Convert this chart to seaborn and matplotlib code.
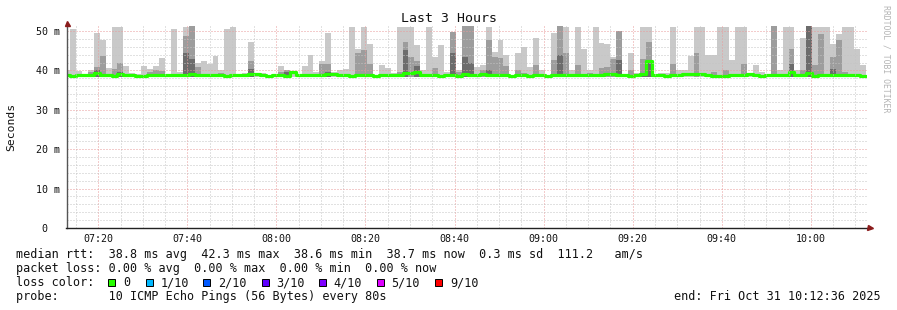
import numpy as np
import pandas as pd
import matplotlib
matplotlib.use("Agg")
import matplotlib.pyplot as plt
from matplotlib.patches import Rectangle
import seaborn as sns

# ---------------- data ----------------
title = "Last 3 Hours"
first_step = "07:12:19"          # start of first 80 s step
step_seconds = 80
window_start = "07:12:52"
window_end = "10:12:36"
smoke_floor = 38.3               # fastest ping (ms)

# top of outer smoke band (ms) per step
light_top = [
    40.0, 50.6, 39.8, 39.2, 40.0, 49.6, 47.7, 40.7, 50.9, 50.9,
    41.0, 39.4, 39.0, 41.0, 40.4, 41.0, 43.1, 39.0, 50.6, 39.6,
    50.9, 51.2, 41.9, 42.3, 41.7, 43.6, 40.0, 50.4, 50.9, 39.2,
    39.4, 47.1, 39.4, 39.4, 38.9, 38.9, 41.1, 40.2, 39.6, 38.9,
    41.1, 44.0, 39.6, 42.3, 49.6, 39.6, 40.2, 40.4, 50.9, 45.5,
    50.9, 46.8, 38.9, 41.3, 40.7, 39.4, 50.9, 50.9, 50.9, 46.5,
    40.0, 50.9, 43.4, 46.4, 39.5, 49.8, 40.0, 51.2, 51.2, 40.9,
    41.3, 50.9, 44.7, 47.7, 44.0, 38.9, 44.5, 46.0, 40.9, 48.1,
    40.0, 38.9, 49.4, 51.2, 50.9, 40.0, 50.9, 45.5, 40.0, 50.9,
    47.0, 46.8, 43.4, 50.0, 38.9, 44.3, 39.4, 50.9, 50.9, 38.9,
    39.4, 39.4, 50.9, 40.0, 40.2, 43.6, 50.9, 50.9, 44.0, 44.0,
    50.9, 50.9, 42.6, 50.9, 50.9, 38.9, 41.3, 39.6, 38.9, 51.2,
    40.0, 50.9, 50.9, 40.0, 48.1, 51.2, 50.9, 50.9, 50.9, 46.8,
    49.2, 50.9, 50.9, 45.4, 41.3,
]
# top of middle smoke band (ms)
mid_top = [
    39.2, 38.3, 38.3, 38.3, 39.5, 40.9, 43.6, 38.3, 40.3, 41.9,
    38.3, 38.3, 38.3, 38.3, 39.6, 40.2, 39.8, 38.3, 38.3, 38.3,
    48.7, 51.2, 40.9, 38.3, 38.3, 38.3, 39.4, 38.3, 38.3, 38.3,
    38.3, 42.3, 38.3, 38.3, 38.3, 38.3, 39.6, 40.0, 38.3, 38.3,
    38.3, 38.3, 38.3, 41.5, 41.5, 38.3, 38.3, 38.3, 38.3, 44.5,
    45.1, 41.7, 38.3, 38.3, 38.3, 38.3, 39.5, 47.1, 43.3, 42.5,
    38.3, 38.3, 40.5, 38.3, 38.3, 49.8, 39.5, 51.2, 51.2, 38.3,
    40.0, 47.7, 43.4, 43.2, 41.0, 38.3, 40.2, 39.4, 38.3, 41.3,
    38.3, 38.3, 42.6, 51.2, 44.3, 38.3, 41.3, 38.3, 39.4, 38.3,
    40.5, 40.9, 43.0, 50.0, 38.3, 40.0, 38.3, 43.0, 47.2, 38.3,
    38.3, 38.3, 41.5, 38.3, 38.3, 38.3, 44.3, 38.3, 38.3, 39.6,
    38.3, 40.0, 38.3, 38.3, 41.7, 38.3, 38.3, 38.3, 38.3, 51.2,
    38.3, 38.3, 45.4, 38.3, 40.2, 51.2, 41.3, 49.2, 38.3, 43.4,
    47.7, 39.6, 38.3, 38.3, 38.3,
]
# top of inner (dark) smoke band (ms)
dark_top = [
    38.3, 38.3, 38.3, 38.3, 39.0, 40.2, 38.3, 38.3, 38.3, 39.5,
    38.3, 38.3, 38.3, 38.3, 38.3, 38.3, 38.3, 38.3, 38.3, 38.3,
    44.5, 42.8, 38.3, 38.3, 38.3, 38.3, 38.3, 38.3, 38.3, 38.3,
    38.3, 40.4, 38.3, 38.3, 38.3, 38.3, 38.3, 39.6, 38.3, 38.3,
    38.3, 38.3, 38.3, 38.3, 39.6, 38.3, 38.3, 38.3, 38.3, 38.3,
    38.3, 38.3, 38.3, 38.3, 38.3, 38.3, 38.3, 45.1, 38.3, 41.0,
    38.3, 38.3, 38.3, 38.3, 38.3, 44.3, 38.3, 43.4, 41.9, 38.3,
    38.3, 40.0, 38.3, 38.3, 38.3, 38.3, 38.3, 38.3, 38.3, 38.3,
    38.3, 38.3, 38.3, 44.0, 38.3, 38.3, 38.3, 38.3, 38.3, 38.3,
    38.3, 38.3, 38.3, 42.6, 38.3, 38.3, 38.3, 39.4, 42.3, 38.3,
    38.3, 38.3, 38.3, 38.3, 38.3, 38.3, 38.3, 38.3, 38.3, 38.3,
    38.3, 38.3, 38.3, 38.3, 38.3, 38.3, 38.3, 38.3, 38.3, 38.3,
    38.3, 38.3, 41.5, 38.3, 38.3, 51.2, 38.3, 38.3, 38.3, 40.4,
    38.3, 38.3, 38.3, 38.3, 38.3,
]
# median rtt (ms)
median_rtt = [
    38.8, 38.6, 38.8, 38.8, 38.8, 39.3, 38.9, 38.8, 38.6, 39.0,
    38.8, 38.8, 38.6, 38.6, 38.8, 38.9, 38.9, 38.9, 38.9, 38.8,
    38.8, 39.1, 38.9, 38.8, 38.8, 38.8, 38.8, 38.5, 38.8, 38.8,
    38.8, 39.2, 39.2, 38.8, 38.5, 38.8, 38.8, 38.5, 39.5, 38.8,
    38.8, 38.8, 38.9, 38.8, 39.0, 39.1, 38.8, 38.8, 38.5, 38.8,
    38.8, 38.8, 38.5, 38.8, 38.8, 38.8, 38.8, 39.3, 39.3, 39.6,
    38.8, 38.8, 38.8, 38.5, 38.8, 38.8, 38.5, 39.0, 38.8, 38.8,
    39.1, 38.8, 38.8, 38.8, 38.8, 38.5, 38.8, 38.8, 38.6, 38.8,
    38.8, 38.5, 38.8, 38.8, 38.8, 38.8, 38.8, 38.8, 38.8, 38.8,
    38.8, 39.1, 39.1, 38.8, 38.8, 38.5, 38.8, 39.1, 42.3, 38.8,
    38.8, 38.6, 38.8, 38.8, 39.1, 39.1, 39.1, 39.1, 38.8, 38.6,
    38.6, 38.6, 38.8, 38.8, 38.8, 39.1, 38.8, 38.6, 38.8, 38.8,
    38.8, 38.8, 39.7, 38.8, 38.8, 39.4, 38.6, 38.8, 38.8, 38.8,
    38.8, 38.8, 38.8, 38.8, 38.7,
]

y_ticks = [0, 10, 20, 30, 40, 50]
y_tick_labels = ["0  ", "10 m", "20 m", "30 m", "40 m", "50 m"]
x_tick_labels = ["07:20", "07:40", "08:00", "08:20", "08:40", "09:00",
                 "09:20", "09:40", "10:00"]

legend_rtt = ("median rtt:  38.8 ms avg  42.3 ms max  38.6 ms min  "
              "38.7 ms now  0.3 ms sd  111.2   am/s")
legend_loss = "packet loss: 0.00 % avg  0.00 % max  0.00 % min  0.00 % now"
loss_labels = ["0", "1/10", "2/10", "3/10", "4/10", "5/10", "9/10"]
loss_colors = ["#26ff00", "#00b8ff", "#0059ff", "#5e00ff", "#7e00ff",
               "#dd00ff", "#ff0000"]
legend_probe = "probe:       10 ICMP Echo Pings (56 Bytes) every 80s"
legend_end = "end: Fri Oct 31 10:12:36 2025"
watermark = "RRDTOOL / TOBI OETIKER"


def to_min(s):
    h, m, sec = (int(v) for v in s.split(":"))
    return h * 60 + m + sec / 60.0


# ---------------- figure ----------------
sns.set_theme(style="white")
plt.rcParams['font.family'] = ['DejaVu Sans Mono', 'DejaVu Sans']

W, H = 897, 310
fig = plt.figure(figsize=(W / 100, H / 100), dpi=100)
fig.patch.set_facecolor("white")
ax_l, ax_r, ax_t, ax_b = 66.5, 867.0, 26.0, 228.0
ax = fig.add_axes([ax_l / W, 1 - ax_b / H, (ax_r - ax_l) / W, (ax_b - ax_t) / H])
ax.set_facecolor("white")

step_min = step_seconds / 60.0
t0 = to_min(first_step)
n = len(median_rtt)
times = np.array([t0 + i * step_min for i in range(n)])

L = np.array(light_top)
M = np.array(mid_top)
D = np.array(dark_top)

ax.bar(times, L - smoke_floor, bottom=smoke_floor, width=step_min, align="edge",
       color="#c9c9c9", linewidth=0, zorder=1)
ax.bar(times, M - smoke_floor, bottom=smoke_floor, width=step_min, align="edge",
       color="#9d9d9d", linewidth=0, zorder=1.1)
ax.bar(times, D - smoke_floor, bottom=smoke_floor, width=step_min, align="edge",
       color="#6c6c6c", linewidth=0, zorder=1.2)

df = pd.DataFrame({"t": list(times) + [times[-1] + step_min],
                   "median": median_rtt + [median_rtt[-1]]})
sns.lineplot(data=df, x="t", y="median", drawstyle="steps-post", color="#26ff00",
             linewidth=2.3, ax=ax, zorder=2, estimator=None)

xmin, xmax = to_min(window_start), to_min(window_end)
ymax = (ax_b - ax_t) / 3.94
ax.set_xlim(xmin, xmax)
ax.set_ylim(0, ymax)

# grid (drawn on top like rrdtool)
dot = (0, (1, 2))
for m5 in range(int(np.ceil(xmin / 5)) * 5, int(xmax) + 1, 5):
    major = (m5 % 20 == 0)
    ax.axvline(m5, color="#e99a9a" if major else "#c4c4c4", lw=0.72, ls=dot, zorder=3)
for yv in range(2, 52, 2):
    major = (yv % 10 == 0)
    ax.axhline(yv, color="#e99a9a" if major else "#c4c4c4", lw=0.72, ls=dot, zorder=3)

major_x = [to_min(s + ":00") for s in x_tick_labels]
ax.set_xticks(major_x)
ax.set_xticklabels(x_tick_labels)
ax.set_xticks([m for m in range(int(np.ceil(xmin / 5)) * 5, int(xmax) + 1, 5)
               if m % 20 != 0], minor=True)
ax.set_yticks(y_ticks)
ax.set_yticklabels(y_tick_labels)
ax.set_yticks([v for v in range(2, 52, 2) if v % 10 != 0], minor=True)
ax.tick_params(axis="both", which="major", length=2.2, width=0.7, color="#cc7777",
               labelsize=7.2, labelcolor="#111111", direction="out")
ax.tick_params(axis="x", which="major", pad=2.0)
ax.tick_params(axis="y", which="major", pad=2.6)
ax.tick_params(axis="both", which="minor", length=1.5, width=0.6, color="#aaaaaa",
               direction="out")
ax.set_xlabel("")
ax.set_ylabel("")

for s in ["top", "right"]:
    ax.spines[s].set_visible(False)
ax.spines["left"].set_color("#555555")
ax.spines["left"].set_linewidth(1.0)
ax.spines["bottom"].set_color("#222222")
ax.spines["bottom"].set_linewidth(1.0)
ax.spines["left"].set_zorder(4)
ax.spines["bottom"].set_zorder(4)

# axis arrows
ax.plot([0], [1.015], marker="^", ms=3.6, color="#8b1c1c", transform=ax.transAxes,
        clip_on=False, zorder=5)
ax.plot([1.004], [0], marker=">", ms=3.6, color="#8b1c1c", transform=ax.transAxes,
        clip_on=False, zorder=5)

# ---------------- texts ----------------
def fx(x):
    return x / W


def fy(y):
    return 1 - y / H


fig.text(fx(448.5), fy(19), title, ha="center", va="center", fontsize=9.5, color="#111111")
fig.text(fx(11), fy(127), "Seconds", rotation=90, ha="center", va="center",
         fontsize=8.2, color="#111111")
fig.text(fx(886), fy(59), watermark, rotation=270, ha="center", va="center",
         fontsize=5.9, color="#b4b4b4")

fs = 8.5
fig.text(fx(16), fy(254.5), legend_rtt, ha="left", va="center", fontsize=fs, color="#111111")
fig.text(fx(16), fy(268.5), legend_loss, ha="left", va="center", fontsize=fs, color="#111111")
fig.text(fx(16), fy(282.5), "loss color:", ha="left", va="center", fontsize=fs, color="#111111")
box_x = [108, 146, 203, 262, 319, 377, 435]
lab_x = [123, 161, 218, 276, 333, 391, 450]
for bx, lx, lab, col in zip(box_x, lab_x, loss_labels, loss_colors):
    fig.patches.append(Rectangle((fx(bx), fy(286)), 7 / W, 7 / H, transform=fig.transFigure,
                                 facecolor=col, edgecolor="#000000", linewidth=0.7))
    fig.text(fx(lx), fy(282.5), lab, ha="left", va="center", fontsize=fs, color="#111111")
fig.text(fx(16), fy(296.5), legend_probe, ha="left", va="center", fontsize=fs, color="#111111")
fig.text(fx(881), fy(296.5), legend_end, ha="right", va="center", fontsize=fs, color="#111111")

fig.savefig("out.png", dpi=100, facecolor="white")
